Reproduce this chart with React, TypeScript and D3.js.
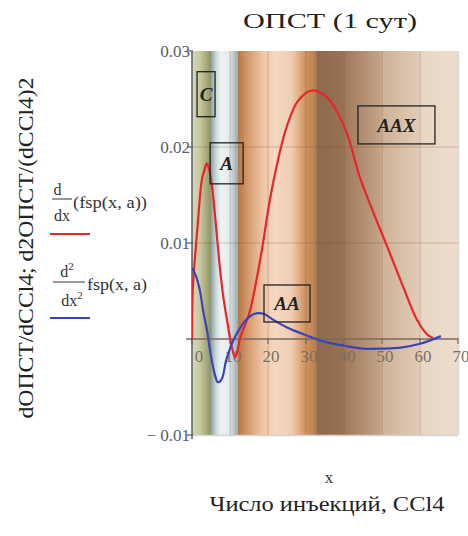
import React from "react";
import * as d3 from "d3";

// ---- data ----
const xTicks = [0, 10, 20, 30, 40, 50, 60, 70];
const yTicks = [0.03, 0.02, 0.01, -0.01];
const yTickLabels = ["0.03", "0.02", "0.01", "\u2212 0.01"];

const redX = [0, 0.1, 0.4, 1, 1.6, 2.6, 3.4, 3.9, 4.5, 5.3, 6.3, 7.4, 8.3, 9.2, 10.3, 11.3, 12, 12.6, 14, 15.3, 16.8, 18.4, 20.5, 22.6, 25, 27.9, 31.6, 35.5, 38, 40.8, 44.2, 47.5, 51.3, 55.5, 59.2, 61.8, 63.4];
const redY = [0, 0.004, 0.0065, 0.0095, 0.0124, 0.0166, 0.0178, 0.0183, 0.0177, 0.0158, 0.0118, 0.0072, 0.0042, 0.002, -0.0005, -0.0019, -0.0012, 0, 0.0015, 0.003, 0.0058, 0.0093, 0.0145, 0.0186, 0.0222, 0.0248, 0.0259, 0.0252, 0.0238, 0.0214, 0.0168, 0.0134, 0.0097, 0.0055, 0.002, 0.0005, 0.0001];

const blueX = [0, 1, 2, 3, 4, 5, 6, 6.8, 7.8, 9, 10, 11.3, 12.6, 14, 15.8, 17.5, 19, 21, 25, 30, 35, 40, 45, 50, 55, 60, 63, 65.5];
const blueY = [0.0074, 0.0066, 0.0052, 0.0028, 0.0008, -0.0018, -0.0037, -0.0045, -0.0042, -0.0022, -0.001, 0.0002, 0.0011, 0.0019, 0.0025, 0.0027, 0.0026, 0.0021, 0.0012, 0.0004, -0.0003, -0.0007, -0.001, -0.001, -0.0009, -0.0005, -0.0001, 0.0003];

const labelsText = ["C", "A", "AA", "AAX"];
const labelsX = [3.7, 9.1, 25.0, 53.8]; // box centers (data x)
const labelsY = [0.0255, 0.0183, 0.0037, 0.0223]; // box centers (data y)

// background band stops (data x, colour)
const bandX = [0, 2.1, 3.7, 5.0, 5.1, 6.3, 7.6, 9.7, 11.0, 12.0, 12.1, 14.7, 18.4, 21.8, 26.3, 29.5, 32.6, 32.9, 39.5, 39.7, 49.5, 49.7, 59.5, 60, 70];
const bandC = ["#d6d8b8", "#c8c8a0", "#aaab7a", "#8c9468", "#8ea6ac", "#c8d8da", "#edf3f2", "#e4ecec", "#b8c8ca", "#9aaeb2", "#b67846", "#d39a6a", "#edc4a2", "#f5d8c2", "#f0cdb0", "#d49866", "#b97e50", "#8d6a4e", "#977152", "#9d7657", "#c3a387", "#cdb095", "#e1cbb6", "#e7d6c4", "#ecddcc"];

const W = 468, H = 536;
const x = d3.scaleLinear().domain([0, 70]).range([192, 458]);
const y = d3.scaleLinear().domain([-0.01, 0.03]).range([435, 51]);

const FONT = "'Liberation Serif', 'Times New Roman', serif";

export default function App() {
  const line = d3.line<[number, number]>().x((d) => x(d[0])).y((d) => y(d[1])).curve(d3.curveCatmullRom.alpha(0.5));
  const red = line(redX.map((v, i) => [v, redY[i]]))!;
  const blue = line(blueX.map((v, i) => [v, blueY[i]]))!;
  const boxW = [18, 33, 46, 77];
  const boxH = [45, 41, 37, 38];
  return (
    <svg width={W} height={H} style={{ position: "absolute", left: 0, top: 0, background: "#fff" }} fontFamily={FONT}>
      <defs>
        <linearGradient id="bg" gradientUnits="userSpaceOnUse" x1={x(0)} x2={x(70)} y1={0} y2={0}>
          {bandX.map((v, i) => (
            <stop key={i} offset={(x(v) - x(0)) / (x(70) - x(0))} stopColor={bandC[i]} />
          ))}
        </linearGradient>
        <clipPath id="plot">
          <rect x={x(0)} y={y(0.03)} width={x(70) - x(0)} height={y(-0.01) - y(0.03)} />
        </clipPath>
      </defs>
      {/* title */}
      <text x={330} y={28} textAnchor="middle" fontSize={22} textLength={174} lengthAdjust="spacingAndGlyphs" fill="#222">ОПСТ (1 сут)</text>

      {/* plot background */}
      <rect x={x(0)} y={y(0.03)} width={x(70) - x(0)} height={y(-0.01) - y(0.03)} fill="url(#bg)" />
      {/* grid */}
      {xTicks.slice(1, 7).map((t) => (
        <line key={"gx" + t} x1={x(t)} x2={x(t)} y1={y(0.03)} y2={y(-0.01)} stroke="rgba(110,70,40,0.22)" strokeWidth={1.2} />
      ))}
      {[0.02, 0.01].map((t) => (
        <line key={"gy" + t} x1={x(0)} x2={x(70)} y1={y(t)} y2={y(t)} stroke="rgba(110,70,40,0.28)" strokeWidth={1.2} />
      ))}
      {/* border bottom/right */}
      <line x1={x(0)} x2={x(70)} y1={y(-0.01) + 0.5} y2={y(-0.01) + 0.5} stroke="#d4d4d4" strokeWidth={1.5} />
      <line x1={x(70) + 0.5} x2={x(70) + 0.5} y1={y(0.03)} y2={y(-0.01)} stroke="#d8d8d8" strokeWidth={1.5} />

      {/* x axis at zero */}
      <line x1={x(0) - 6} x2={x(70)} y1={y(0)} y2={y(0)} stroke="#7a6a5c" strokeWidth={1.3} />
      {xTicks.map((t) => (
        <line key={"xt" + t} x1={x(t)} x2={x(t)} y1={y(0) - 1} y2={y(0) + 5} stroke="#7a6a5c" strokeWidth={1.2} />
      ))}
      {xTicks.map((t) => (
        <text key={"xl" + t} x={x(t) + (t === 0 ? 7 : 3)} y={y(0) + 23} textAnchor="middle" fontSize={17} fill="#7d6e62">{t}</text>
      ))}

      {/* y axis */}
      <line x1={x(0)} x2={x(0)} y1={y(0.03)} y2={y(-0.01) + 4} stroke="#5a5f66" strokeWidth={1.5} />
      {yTicks.map((t) => (
        <line key={"yt" + t} x1={x(0) - 5} x2={x(0) + 1} y1={y(t)} y2={y(t)} stroke="#5a5f66" strokeWidth={1.3} />
      ))}
      {yTicks.map((t, i) => (
        <text key={"yl" + t} x={x(0) - 2} y={y(t) + 6} textAnchor="end" fontSize={17} fill="#556070">{yTickLabels[i]}</text>
      ))}

      {/* curves */}
      <g clipPath="url(#plot)">
        <path d={red} fill="none" stroke="#e8262a" strokeWidth={2.2} strokeLinejoin="round" />
        <path d={blue} fill="none" stroke="#3a44b8" strokeWidth={2.2} strokeLinejoin="round" />
      </g>

      {/* annotation boxes */}
      {labelsText.map((s, i) => {
        const cx = x(labelsX[i]);
        const cy = y(labelsY[i]);
        return (
          <g key={s}>
            <rect x={cx - boxW[i] / 2} y={cy - boxH[i] / 2} width={boxW[i]} height={boxH[i]} fill="none" stroke="#222" strokeWidth={1.3} />
            <text x={cx} y={cy + 7} textAnchor="middle" fontSize={19} fontStyle="italic" fontWeight="bold" fill="#222">{s}</text>
          </g>
        );
      })}

      {/* y axis title */}
      <text transform="translate(33,248) rotate(-90)" textAnchor="middle" fontSize={22} textLength={341} lengthAdjust="spacingAndGlyphs" fill="#222">dОПСТ/dCCl4; d2ОПСТ/(dCCl4)2</text>

      {/* legend */}
      <g fontSize={16} fill="#333">
        <text x={57.5} y={195} textAnchor="middle">d</text>
        <line x1={52} x2={72} y1={199} y2={199} stroke="#333" strokeWidth={1} />
        <text x={62} y={221} textAnchor="middle">dx</text>
        <text x={73} y={208} textLength={74} lengthAdjust="spacingAndGlyphs">(fsp(x, a))</text>
        <line x1={50} x2={90} y1={234} y2={234} stroke="#e8262a" strokeWidth={2} />

        <text x={67} y={277} textAnchor="middle">d<tspan fontSize={11} dy={-7}>2</tspan></text>
        <line x1={53} x2={85} y1={282} y2={282} stroke="#333" strokeWidth={1} />
        <text x={72} y={306} textAnchor="middle">dx<tspan fontSize={11} dy={-7}>2</tspan></text>
        <text x={87} y={290} textLength={60} lengthAdjust="spacingAndGlyphs">fsp(x, a)</text>
        <line x1={50} x2={90} y1={318} y2={318} stroke="#3a44b8" strokeWidth={2} />
      </g>

      {/* x axis titles */}
      <text x={329} y={483} textAnchor="middle" fontSize={17} fill="#333">x</text>
      <text x={327} y={511} textAnchor="middle" fontSize={22} textLength={235} lengthAdjust="spacingAndGlyphs" fill="#222">Число инъекций, CCl4</text>
    </svg>
  );
}
